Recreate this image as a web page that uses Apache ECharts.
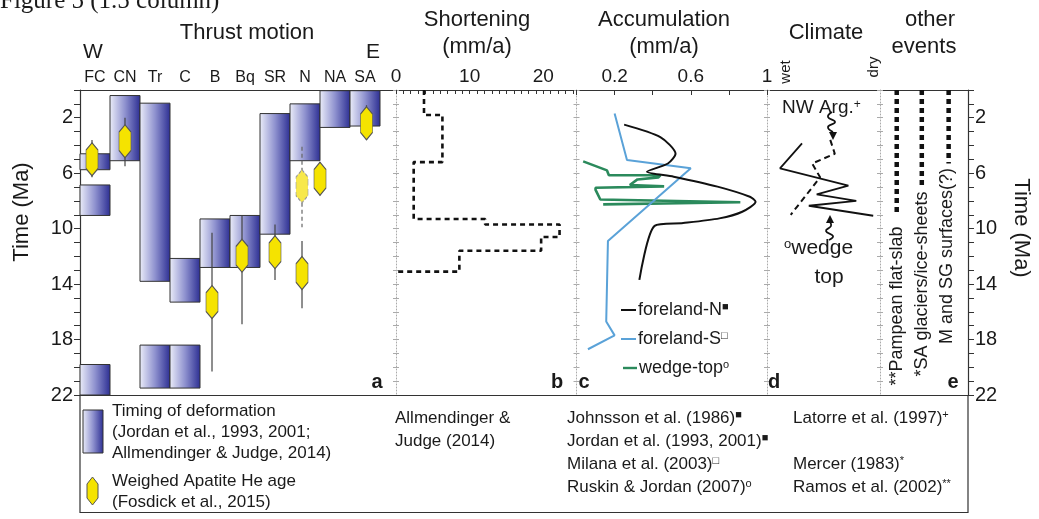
<!DOCTYPE html>
<html>
<head>
<meta charset="utf-8">
<script src="https://cdn.jsdelivr.net/npm/echarts@6/dist/echarts.min.js"></script>
<style>
  html, body { margin: 0; padding: 0; background: #fff; }
  #chart { width: 1039px; height: 519px; }
</style>
</head>
<body>
<div id="chart"></div>
<script>
// ---- data ----
var columns = ['FC', 'CN', 'Tr', 'C', 'B', 'Bq', 'SR', 'N', 'NA', 'SA'];

// timing of deformation boxes: column index, young edge, old edge (Ma)
var boxCol  = [0, 0, 0, 1, 2, 2, 3, 3, 4, 5, 6, 7, 8, 9];
var boxTop  = [4.6, 6.85, 19.8, 0.4, 0.95, 18.4, 12.15, 18.4, 9.3, 9.05, 1.7, 1.0, 0.05, 0.05];
var boxBase = [5.75, 9.05, 22, 5.1, 13.8, 21.5, 15.3, 21.5, 12.8, 12.8, 10.4, 5.1, 2.7, 2.6];

// weighed apatite He ages (x in column units)
var heX      = [0.4, 1.5, 4.4, 5.4, 6.5, 7.4, 7.4, 8.0, 9.55];
var heAge    = [5.0, 3.7, 15.3, 11.95, 11.7, 6.95, 13.2, 6.4, 2.4];
var heMin    = [3.6, 2.0, 10.3, 9.05, 9.7, 4.1, 10.9, 5.2, 1.1];
var heMax    = [6.3, 5.5, 20.3, 16.9, 13.7, 9.9, 15.75, 7.6, 3.6];
var heDashed = [0, 0, 0, 0, 0, 1, 0, 0, 0];

// shortening rate (mm/a), steps
var shortRate = [3.8, 6.3, 2.4, 12.1, 22.2, 19.7, 8.6];
var shortFrom = [0, 1.8, 5.2, 9.3, 9.7, 10.6, 11.6];
var shortTo   = [1.8, 5.2, 9.3, 9.7, 10.6, 11.6, 13.1];
var shortEndRate = 0.1;

// accumulation (mm/a)
var forelandNRate = [0.25, 0.44, 0.52, 0.48, 0.37, 0.51, 0.74, 0.91, 0.94, 0.87, 0.75, 0.56, 0.41, 0.33];
var forelandNAge  = [2.5, 3.4, 4.6, 5.3, 5.9, 6.25, 6.97, 7.7, 8.06, 8.78, 9.26, 9.6, 9.8, 13.7];
var forelandSRate = [0.2, 0.265, 0.6, 0.165, 0.156, 0.2, 0.06];
var forelandSAge  = [1.7, 5.05, 5.65, 10.9, 16.7, 17.7, 18.7];
var wedgeRate = [0.035, 0.16, 0.17, 0.44, 0.43, 0.32, 0.28, 0.46, 0.1, 0.1, 0.125, 0.86, 0.86, 0.14];
var wedgeAge  = [5.15, 5.8, 6.15, 6.15, 6.3, 6.45, 6.85, 6.95, 7.05, 7.2, 7.9, 8.1, 8.2, 8.25];

// climate (0 = wet, 1 = dry)
var climWedgeX = [0.31, 0.115, 0.72, 0.44, 0.79, 0.37, 0.94];
var climWedgeT = [3.85, 5.65, 6.9, 7.53, 8.0, 8.35, 9.07];
var climNWX = [0.56, 0.6, 0.4, 0.47, 0.21];
var climNWT = [3.6, 4.6, 5.3, 6.3, 9.0];

// other events
var eventNames = ['**Pampean flat-slab', '*SA glaciers/ice-sheets', 'M and SG surfaces(?)'];
var eventX   = [0.19, 0.475, 0.78];
var eventEnd = [8.9, 6.85, 5.3];

// tick labels
var timeLabels  = [2, 6, 10, 14, 18, 22];
var shortLabels = [0, 10, 20];
var accumLabels = [0.2, 0.6, 1];

// ---- chart ----
var FONT = '"Liberation Sans", Arial, sans-serif';
var INK = '#1a1a1a';
var boxFill = { type: 'linear', x: 0, y: 0, x2: 1, y2: 0,
  colorStops: [{ offset: 0, color: '#eceef9' }, { offset: 0.5, color: '#8f92cf' }, { offset: 1, color: '#2b2d92' }] };

function txt(x, y, s, size, extra) {
  var o = { type: 'text', x: x, y: y, z: 50,
    style: { text: s, font: size + 'px ' + FONT, fill: INK, align: 'left', verticalAlign: 'middle',
      rich: { s: { fontSize: Math.round(size * 0.62), fontFamily: FONT, fill: INK, verticalAlign: 'top', lineHeight: Math.round(size * 0.6) } } } };
  extra = extra || {};
  for (var k in extra) {
    if (k === 'align' || k === 'verticalAlign' || k === 'font' || k === 'fill') o.style[k] = extra[k];
    else o[k] = extra[k];
  }
  return o;
}

function timeAxis(grid, extra) {
  var a = { gridIndex: grid, type: 'value', inverse: true, min: 0, max: 22, interval: 1,
    splitLine: { show: false }, axisLabel: { show: false } };
  for (var k in extra) a[k] = extra[k];
  return a;
}
function dottedAxis(grid) {
  return [
    timeAxis(grid, { position: 'left', axisLine: { show: true, lineStyle: { color: '#aaa', type: [1, 2], width: 1 } },
      axisTick: { show: true, length: 3, lineStyle: { color: '#aaa' } } }),
    timeAxis(grid, { position: 'left', axisLine: { show: false },
      axisTick: { show: true, inside: true, length: 3, lineStyle: { color: '#aaa' } } })
  ];
}

var yAxes = [
  timeAxis(0, { position: 'left', axisLine: { show: true, lineStyle: { color: '#333', width: 1.2 } },
    axisTick: { show: true, length: 6, lineStyle: { color: '#333' } },
    axisLabel: { show: true, customValues: timeLabels, fontSize: 20, color: INK, fontFamily: FONT, margin: 7 } })
].concat(dottedAxis(1), dottedAxis(2), dottedAxis(3), dottedAxis(4), [
  timeAxis(4, { position: 'right', axisLine: { show: true, lineStyle: { color: '#333', width: 1.2 } },
    axisTick: { show: true, length: 6, lineStyle: { color: '#333' } },
    axisLabel: { show: true, customValues: timeLabels, fontSize: 20, color: INK, fontFamily: FONT, margin: 7 } })
]);

var topLine = { show: true, lineStyle: { color: '#333', width: 1.2 } };
var xAxes = [
  { gridIndex: 0, type: 'value', position: 'top', min: 0, max: 10.533, axisLine: topLine,
    axisTick: { show: false }, splitLine: { show: false },
    axisLabel: { customValues: columns.map(function (c, i) { return i + 0.5; }),
      formatter: function (v) { return columns[Math.floor(v)]; }, fontSize: 16, color: INK, fontFamily: FONT, margin: 4 } },
  { gridIndex: 1, type: 'value', position: 'top', min: 0, max: 24.5, interval: 1, axisLine: topLine,
    axisTick: { show: true, inside: true, length: 4, lineStyle: { color: '#333' } }, splitLine: { show: false },
    axisLabel: { customValues: shortLabels, fontSize: 19, color: INK, fontFamily: FONT, margin: 4 } },
  { gridIndex: 2, type: 'value', position: 'top', min: 0, max: 1, interval: 0.2, axisLine: topLine,
    axisTick: { show: true, inside: true, length: 5, lineStyle: { color: '#333' } }, splitLine: { show: false },
    axisLabel: { customValues: accumLabels, fontSize: 19, color: INK, fontFamily: FONT, margin: 4 } },
  { gridIndex: 3, type: 'value', position: 'top', min: 0, max: 1, axisLine: topLine,
    axisTick: { show: false }, axisLabel: { show: false }, splitLine: { show: false } },
  { gridIndex: 4, type: 'value', position: 'top', min: 0, max: 1, axisLine: topLine,
    axisTick: { show: false }, axisLabel: { show: false }, splitLine: { show: false } }
];

var shortData = [];
shortRate.forEach(function (r, i) { shortData.push([r, shortFrom[i]], [r, shortTo[i]]); });
shortData.push([shortEndRate, shortTo[shortTo.length - 1]]);

function pairs(xs, ys) { return xs.map(function (x, i) { return [x, ys[i]]; }); }

var series = [
  { type: 'custom', xAxisIndex: 0, yAxisIndex: 0, z: 2,
    data: boxCol.map(function (c, i) { return [c, boxTop[i], boxBase[i]]; }),
    encode: { x: 0, y: [1, 2] },
    renderItem: function (params, api) {
      var p0 = api.coord([api.value(0), api.value(1)]);
      var p1 = api.coord([api.value(0) + 1, api.value(2)]);
      return { type: 'rect', shape: { x: p0[0], y: p0[1], width: p1[0] - p0[0], height: p1[1] - p0[1] },
        style: { fill: boxFill, stroke: '#333', lineWidth: 1 } };
    } },
  { type: 'custom', xAxisIndex: 0, yAxisIndex: 0, z: 3,
    data: heX.map(function (x, i) { return [x, heMin[i], heMax[i], heDashed[i]]; }),
    encode: { x: 0, y: [1, 2] },
    renderItem: function (params, api) {
      var a = api.coord([api.value(0), api.value(1)]);
      var b = api.coord([api.value(0), api.value(2)]);
      var d = api.value(3);
      return { type: 'line', shape: { x1: a[0], y1: a[1], x2: b[0], y2: b[1] },
        style: { stroke: d ? '#666' : '#444', lineWidth: 1.2, lineDash: d ? [4, 3] : null } };
    } },
  { type: 'scatter', xAxisIndex: 0, yAxisIndex: 0, z: 4,
    symbol: 'path://M5,0L10,7L10,25L5,32L0,25L0,7Z', symbolSize: [12, 33],
    itemStyle: { color: '#f5e300', borderColor: '#555', borderWidth: 1, opacity: 1 },
    data: heX.map(function (x, i) {
      return { value: [x, heAge[i]], itemStyle: heDashed[i] ? { borderType: 'dashed', borderColor: '#999', color: '#f7e84a' } : {} };
    }) },
  { type: 'line', xAxisIndex: 1, yAxisIndex: 1, data: shortData, symbol: 'none',
    lineStyle: { color: '#111', width: 2.6, type: [5, 4] } },
  { type: 'line', xAxisIndex: 2, yAxisIndex: 3, data: pairs(wedgeRate, wedgeAge), symbol: 'none',
    lineStyle: { color: '#2b8a5c', width: 2.6 } },
  { type: 'line', xAxisIndex: 2, yAxisIndex: 3, data: pairs(forelandSRate, forelandSAge), symbol: 'none',
    lineStyle: { color: '#5aa2d8', width: 2 } },
  { type: 'line', xAxisIndex: 2, yAxisIndex: 3, data: pairs(forelandNRate, forelandNAge), symbol: 'none', smooth: 0.25,
    lineStyle: { color: '#111', width: 2 } },
  { type: 'line', xAxisIndex: 3, yAxisIndex: 5, data: pairs(climWedgeX, climWedgeT), symbol: 'none',
    lineStyle: { color: '#111', width: 1.8 } },
  { type: 'line', xAxisIndex: 3, yAxisIndex: 5, data: pairs(climNWX, climNWT), symbol: 'none',
    lineStyle: { color: '#111', width: 2, type: [6, 4] } }
];
eventX.forEach(function (x, i) {
  series.push({ type: 'line', xAxisIndex: 4, yAxisIndex: 7, data: [[x, 0], [x, eventEnd[i]]], symbol: 'none',
    lineStyle: { color: '#111', width: 4.5, type: [5, 4], cap: 'butt' } });
});

var graphic = [
  txt(0, 1, 'Figure 5 (1.5 column)', 25, { font: '25px "Liberation Serif", "Times New Roman", serif', verticalAlign: 'middle' }),
  txt(247, 33, 'Thrust motion', 22, { align: 'center' }),
  txt(93, 52, 'W', 21, { align: 'center' }),
  txt(373, 52, 'E', 21, { align: 'center' }),
  txt(477, 20, 'Shortening', 22, { align: 'center' }),
  txt(477, 47, '(mm/a)', 22, { align: 'center' }),
  txt(664, 20, 'Accumulation', 22, { align: 'center' }),
  txt(664, 47, '(mm/a)', 22, { align: 'center' }),
  txt(826, 33, 'Climate', 22, { align: 'center' }),
  txt(930, 20, 'other', 22, { align: 'center' }),
  txt(924, 47, 'events', 22, { align: 'center' }),
  txt(786, 72, 'wet', 15, { align: 'center', rotation: Math.PI / 2 }),
  txt(874, 67, 'dry', 15, { align: 'center', rotation: Math.PI / 2 }),
  txt(22, 212, 'Time (Ma)', 22, { align: 'center', rotation: Math.PI / 2 }),
  txt(1021, 228, 'Time (Ma)', 22, { align: 'center', rotation: -Math.PI / 2 }),
  txt(377, 382, 'a', 20, { align: 'center', font: 'bold 20px ' + FONT }),
  txt(557, 382, 'b', 20, { align: 'center', font: 'bold 20px ' + FONT }),
  txt(584, 382, 'c', 20, { align: 'center', font: 'bold 20px ' + FONT }),
  txt(774, 382, 'd', 20, { align: 'center', font: 'bold 20px ' + FONT }),
  txt(953, 382, 'e', 20, { align: 'center', font: 'bold 20px ' + FONT }),
  // climate annotations
  txt(782, 108, 'NW Arg.{s|+}', 19),
  txt(784, 248, '{s|o}wedge', 21),
  txt(829, 277, 'top', 21, { align: 'center' }),
  { type: 'polyline', z: 50, shape: { points: [[832, 112], [828, 117], [835, 122], [828, 127], [833, 132]], smooth: 0.5 },
    style: { stroke: '#111', lineWidth: 1.8, fill: null } },
  { type: 'polygon', z: 50, shape: { points: [[829, 132], [837, 132], [833, 140]] }, style: { fill: '#111' } },
  { type: 'polyline', z: 50, shape: { points: [[829, 240], [833, 236], [826, 231], [831, 226], [830, 222]], smooth: 0.5 },
    style: { stroke: '#111', lineWidth: 1.8, fill: null } },
  { type: 'polygon', z: 50, shape: { points: [[826, 223], [834, 223], [830, 215]] }, style: { fill: '#111' } },
  // accumulation legend
  { type: 'line', z: 50, shape: { x1: 621, y1: 310, x2: 636, y2: 310 }, style: { stroke: '#111', lineWidth: 2 } },
  { type: 'line', z: 50, shape: { x1: 621, y1: 339, x2: 636, y2: 339 }, style: { stroke: '#5aa2d8', lineWidth: 2 } },
  { type: 'line', z: 50, shape: { x1: 623, y1: 368, x2: 637, y2: 368 }, style: { stroke: '#2b8a5c', lineWidth: 2.4 } },
  txt(638, 310, 'foreland-N{s|■}', 18),
  txt(638, 339, 'foreland-S{s|□}', 18),
  txt(639, 368, 'wedge-top{s|o}', 18),
  // reference box
  { type: 'rect', z: 40, shape: { x: 80, y: 395.5, width: 888, height: 117 }, style: { fill: 'none', stroke: '#333', lineWidth: 1.2 } },
  { type: 'rect', z: 41, shape: { x: 83, y: 410, width: 20, height: 43 }, style: { fill: boxFill, stroke: '#333', lineWidth: 1 } },
  { type: 'polygon', z: 41, shape: { points: [[92.5, 477], [98, 484], [98, 498], [92.5, 505], [87, 498], [87, 484]] },
    style: { fill: '#f5e300', stroke: '#555', lineWidth: 1 } },
  txt(112, 411, 'Timing of deformation', 17),
  txt(112, 432, '(Jordan et al., 1993, 2001;', 17),
  txt(112, 453, 'Allmendinger & Judge, 2014)', 17),
  txt(112, 481, 'Weighed Apatite He age', 17),
  txt(112, 502, '(Fosdick et al., 2015)', 17),
  txt(395, 418, 'Allmendinger &', 17),
  txt(395, 441, 'Judge (2014)', 17),
  txt(567, 418, 'Johnsson et al. (1986){s|■}', 17),
  txt(567, 441, 'Jordan et al. (1993, 2001){s|■}', 17),
  txt(567, 464, 'Milana et al. (2003){s|□}', 17),
  txt(567, 487, 'Ruskin & Jordan (2007){s|o}', 17),
  txt(793, 418, 'Latorre et al. (1997){s|+}', 17),
  txt(793, 464, 'Mercer (1983){s|*}', 17),
  txt(793, 487, 'Ramos et al. (2002){s|**}', 17)
];
var eventCenters = [[897, 306], [922, 284], [947, 256]];
eventNames.forEach(function (n, i) {
  graphic.push(txt(eventCenters[i][0], eventCenters[i][1], n, 18, { align: 'center', rotation: Math.PI / 2 }));
});

var option = {
  animation: false,
  backgroundColor: '#fff',
  grid: [
    { left: 80, top: 90, width: 316, height: 305 },
    { left: 396, top: 90, width: 180.5, height: 305 },
    { left: 576.5, top: 90, width: 190.5, height: 305 },
    { left: 767, top: 90, width: 113, height: 305 },
    { left: 880, top: 90, width: 88, height: 305 }
  ],
  xAxis: xAxes,
  yAxis: yAxes,
  series: series,
  graphic: graphic
};

var chart = echarts.init(document.getElementById('chart'), null, { renderer: 'canvas' });
chart.setOption(option);
</script>
</body>
</html>
